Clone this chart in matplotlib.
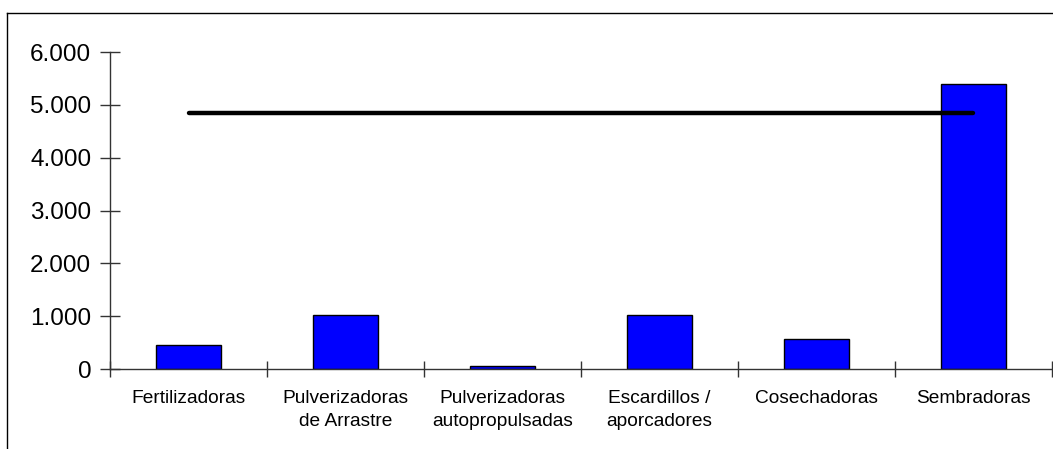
import numpy as np
import matplotlib.pyplot as plt
from matplotlib.lines import Line2D
from matplotlib.ticker import FuncFormatter, FixedLocator

plt.rcParams['font.family'] = ['Liberation Sans', 'DejaVu Sans']

# Data
categories = ['Fertilizadoras', 'Pulverizadoras\nde Arrastre', 'Pulverizadoras\nautopropulsadas',
              'Escardillos /\naporcadores', 'Cosechadoras', 'Sembradoras']
values = [455, 1020, 60, 1020, 575, 5395]
average = [4840] * len(categories)

fig = plt.figure(figsize=(10.53, 4.49), dpi=100)
ax = fig.add_axes([0.1045, 0.178, 0.8945, 0.706])

x = np.arange(len(categories))
ax.bar(x, values, width=0.41, color='#0000ff', edgecolor='black', linewidth=1.0, zorder=2)
ax.plot(x, average, color='black', linewidth=3.2, solid_capstyle='round', zorder=3)

ax.set_xlim(-0.5, len(categories) - 0.5)
ax.set_ylim(0, 6000)
ax.set_yticks(np.arange(0, 6001, 1000))
ax.yaxis.set_major_formatter(FuncFormatter(lambda v, p: f'{int(v):,}'.replace(',', '.')))
ax.set_xticks(x)
ax.set_xticklabels(categories, fontsize=13.8, linespacing=1.5)
ax.tick_params(axis='x', which='major', length=0, pad=15)
ax.xaxis.set_minor_locator(FixedLocator(np.arange(-0.5, len(categories), 1.0)))
ax.tick_params(axis='x', which='minor', direction='inout', length=12, width=1, color='#333333')
ax.tick_params(axis='y', direction='inout', length=15, width=1, color='#333333', labelsize=17.5, pad=6)

for s in ['top', 'right']:
    ax.spines[s].set_visible(False)
for s in ['left', 'bottom']:
    ax.spines[s].set_color('#333333')
    ax.spines[s].set_linewidth(1.0)

# outer chart frame (clipped on right and bottom)
fx = 7 / 1053
fy = 1 - 13 / 449
fig.add_artist(Line2D([fx, fx], [0, fy], transform=fig.transFigure, color='black', linewidth=1))
fig.add_artist(Line2D([fx, 1], [fy, fy], transform=fig.transFigure, color='black', linewidth=1))

fig.savefig('out.png', dpi=100)
